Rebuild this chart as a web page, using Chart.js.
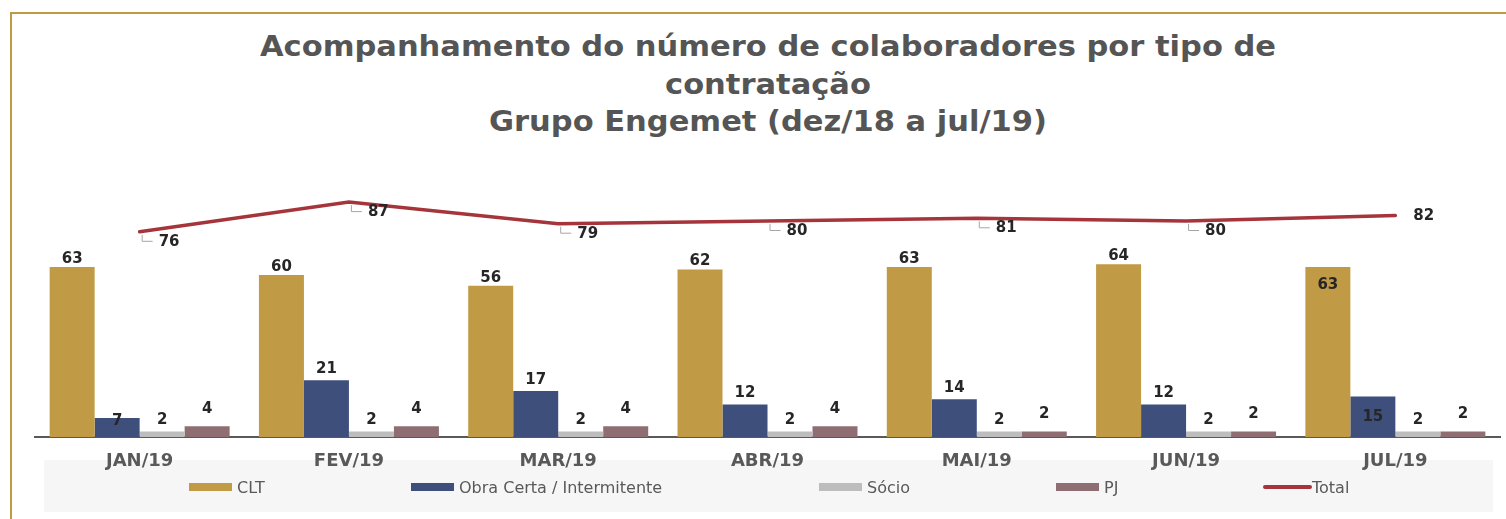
<!DOCTYPE html>
<html>
<head>
<meta charset="utf-8">
<script src="https://cdn.jsdelivr.net/npm/chart.js@4"></script>
<style>
  body { margin: 0; background: #fff; }
  #wrap { position: relative; width: 1506px; height: 519px; overflow: hidden; background: #fff; font-family: "DejaVu Sans", sans-serif; }
  .frame { position: absolute; left: 10px; top: 12px; width: 1600px; height: 600px; border-top: 2px solid #BF9A45; border-left: 2px solid #BF9A45; }
  #title { position: absolute; left: 0; top: 28px; width: 1536px; text-align: center; font-size: 28px; font-weight: bold; line-height: 37.5px; color: #555555; transform: scaleX(1.09); transform-origin: 768px 0; }
  #legendbox { position: absolute; left: 44px; top: 460px; width: 1449px; height: 52px; background: #F6F6F6; }
  #chart { position: absolute; left: 0; top: 0; }
  .item { position: absolute; top: 476px; height: 22px; display: flex; align-items: center; font-size: 16px; color: #595959; white-space: nowrap; }
  .swatch { width: 43px; height: 8px; margin-right: 5px; }
  .lineswatch { width: 49px; height: 4px; border-radius: 2px; margin-right: 0; }
</style>
</head>
<body>
<div id="wrap">
  <div class="frame"></div>
  <div id="title">Acompanhamento do número de colaboradores por tipo de<br>contratação<br>Grupo Engemet (dez/18 a jul/19)</div>
  <div id="legendbox"></div>
  <canvas id="chart" width="1506" height="519"></canvas>
  <div id="legend"></div>
</div>
<script>
const months = ['JAN/19', 'FEV/19', 'MAR/19', 'ABR/19', 'MAI/19', 'JUN/19', 'JUL/19'];
const clt = [63, 60, 56, 62, 63, 64, 63];
const obraCerta = [7, 21, 17, 12, 14, 12, 15];
const socio = [2, 2, 2, 2, 2, 2, 2];
const pj = [4, 4, 4, 4, 2, 2, 2];
const total = [76, 87, 79, 80, 81, 80, 82];

const colors = {
  clt: '#C09A45',
  obra: '#3E4F7C',
  socio: '#BDBDBD',
  pj: '#8E6E73',
  total: '#A5353B'
};

Chart.defaults.font.family = '"DejaVu Sans", sans-serif';

// labels above the bars, and the leader-style labels for the total line
const valueLabels = {
  id: 'valueLabels',
  afterDatasetsDraw(chart) {
    const ctx = chart.ctx;
    const gap = [8, 11, 11, 17]; // distance above bar top, per bar series
    ctx.save();
    ctx.font = 'bold 15px "DejaVu Sans"';
    ctx.fillStyle = '#262626';
    ctx.textBaseline = 'middle';

    chart.data.datasets.forEach((ds, i) => {
      const meta = chart.getDatasetMeta(i);
      meta.data.forEach((el, j) => {
        const text = String(ds.data[j]);
        if (ds.type === 'line') {
          ctx.textAlign = 'left';
          if (j === ds.data.length - 1) {
            ctx.fillText(text, el.x + 18, el.y + 0.5);
            return;
          }
          ctx.strokeStyle = '#A6A6A6';
          ctx.lineWidth = 1;
          ctx.beginPath();
          ctx.moveTo(el.x + 2.5, el.y + 3);
          ctx.lineTo(el.x + 2.5, el.y + 9.5);
          ctx.lineTo(el.x + 13, el.y + 9.5);
          ctx.stroke();
          ctx.fillText(text, el.x + 19, el.y + 10);
          return;
        }
        ctx.textAlign = 'center';
        let y = el.y - gap[i];
        if (j === ds.data.length - 1 && i === 0) y = el.y + 18;
        if (j === ds.data.length - 1 && i === 1) y = (el.y + el.base) / 2;
        if (j === 0 && i === 1) y = el.y + 3;
        ctx.fillText(text, el.x, y);
      });
    });
    ctx.restore();
  }
};

const barDefaults = { categoryPercentage: 0.86, barPercentage: 1 };

new Chart(document.getElementById('chart'), {
  type: 'bar',
  data: {
    labels: months,
    datasets: [
      { label: 'CLT', data: clt, backgroundColor: colors.clt, ...barDefaults, order: 2 },
      { label: 'Obra Certa / Intermitente', data: obraCerta, backgroundColor: colors.obra, ...barDefaults, order: 2 },
      { label: 'Sócio', data: socio, backgroundColor: colors.socio, ...barDefaults, order: 2 },
      { label: 'PJ', data: pj, backgroundColor: colors.pj, ...barDefaults, order: 2 },
      {
        type: 'line', label: 'Total', data: total,
        borderColor: colors.total, borderWidth: 3.5, borderCapStyle: 'round',
        pointRadius: 0, tension: 0, fill: false, order: 1
      }
    ]
  },
  options: {
    responsive: false,
    animation: false,
    layout: { padding: { left: 35, right: 6, top: 167, bottom: 0 } },
    plugins: {
      legend: { display: false },
      title: { display: false },
      tooltip: { enabled: false }
    },
    scales: {
      x: {
        grid: { display: false, drawTicks: false },
        border: { display: true, color: '#595959', width: 2 },
        ticks: { color: '#595959', font: { size: 18, weight: 'bold' }, padding: 14 },
        afterFit(scale) { scale.height = 82; }
      },
      y: { display: false, min: 0, max: 100 }
    }
  },
  plugins: [valueLabels]
});

// legend drawn as html, spread like the original
const legendItems = [
  { label: 'CLT', color: colors.clt, left: 189 },
  { label: 'Obra Certa / Intermitente', color: colors.obra, left: 411 },
  { label: 'Sócio', color: colors.socio, left: 819 },
  { label: 'PJ', color: colors.pj, left: 1056 },
  { label: 'Total', color: colors.total, left: 1263, line: true }
];
const legend = document.getElementById('legend');
legendItems.forEach(item => {
  const div = document.createElement('div');
  div.className = 'item';
  div.style.left = item.left + 'px';
  div.innerHTML = `<span class="${item.line ? 'lineswatch' : 'swatch'}" style="background:${item.color}"></span><span>${item.label}</span>`;
  legend.appendChild(div);
});
</script>
</body>
</html>
